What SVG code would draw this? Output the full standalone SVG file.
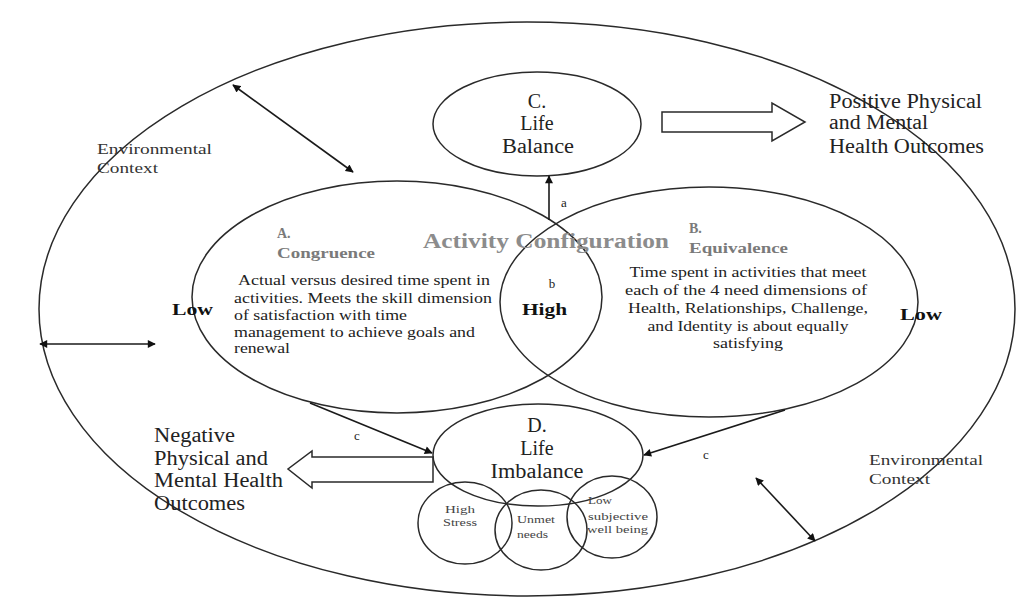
<svg xmlns="http://www.w3.org/2000/svg" width="1026" height="605" viewBox="0 0 1026 605">
<style>
.sh{fill:none;stroke:#2a2a2a;stroke-width:1.5}
.ln{stroke:#1a1a1a;stroke-width:1.6;fill:none}
.t{font-family:"Liberation Serif","Times New Roman",serif;fill:#222}
.big{font-size:20px}
.env{font-size:15.5px;fill:#333}
.body{font-size:14.5px}
.gb{font-weight:bold;fill:#7a7a7a}
.bd{font-weight:bold;fill:#111}
.sm{font-size:11px;fill:#444}
.lbl{font-size:13px}
</style>
<defs>
<marker id="ah" viewBox="0 0 10 10" refX="9" refY="5" markerWidth="9" markerHeight="8" markerUnits="userSpaceOnUse" orient="auto-start-reverse">
<path d="M0,0 L10,5 L0,10 z" fill="#111"/>
</marker>
</defs>
<rect width="1026" height="605" fill="#fff"/>

<g id="outer-context">
<ellipse class="sh" cx="527" cy="309" rx="488" ry="287"/>
</g>

<g id="env-context-left">
<text class="t env" x="97" y="154" textLength="115" lengthAdjust="spacingAndGlyphs">Environmental</text>
<text class="t env" x="97" y="173" textLength="61" lengthAdjust="spacingAndGlyphs">Context</text>
</g>

<g id="env-context-right">
<text class="t env" x="869" y="465" textLength="114" lengthAdjust="spacingAndGlyphs">Environmental</text>
<text class="t env" x="869" y="484" textLength="61" lengthAdjust="spacingAndGlyphs">Context</text>
</g>

<g id="node-c-life-balance">
<ellipse class="sh" cx="537" cy="124" rx="104" ry="52"/>
<text class="t big" x="537" y="108" text-anchor="middle">C.</text>
<text class="t big" x="537" y="130" text-anchor="middle">Life</text>
<text class="t big" x="538" y="153" text-anchor="middle" textLength="72" lengthAdjust="spacingAndGlyphs">Balance</text>
</g>

<g id="node-positive">
<polygon class="sh" points="662,112 772,112 772,103 805,122 772,141 772,132 662,132"/>
<text class="t big" x="829" y="108" textLength="153" lengthAdjust="spacingAndGlyphs">Positive Physical</text>
<text class="t big" x="829" y="129" textLength="99" lengthAdjust="spacingAndGlyphs">and Mental</text>
<text class="t big" x="829" y="153" textLength="155" lengthAdjust="spacingAndGlyphs">Health Outcomes</text>
</g>

<g id="node-a-congruence">
<ellipse class="sh" cx="397" cy="297" rx="205" ry="116"/>
<text class="t gb" x="277" y="238" font-size="14">A.</text>
<text class="t gb" x="277" y="258" font-size="15" textLength="98" lengthAdjust="spacingAndGlyphs">Congruence</text>
<text class="t body" x="238" y="285" textLength="252" lengthAdjust="spacingAndGlyphs">Actual versus desired time spent in</text>
<text class="t body" x="234" y="303" textLength="258" lengthAdjust="spacingAndGlyphs">activities. Meets the skill dimension</text>
<text class="t body" x="234" y="320" textLength="173" lengthAdjust="spacingAndGlyphs">of satisfaction with time</text>
<text class="t body" x="234" y="337" textLength="241" lengthAdjust="spacingAndGlyphs">management to achieve goals and</text>
<text class="t body" x="234" y="353" textLength="56" lengthAdjust="spacingAndGlyphs">renewal</text>
</g>

<g id="node-b-equivalence">
<ellipse class="sh" cx="709" cy="302" rx="209" ry="115"/>
<text class="t gb" x="689" y="233" font-size="14">B.</text>
<text class="t gb" x="689" y="253" font-size="15" textLength="99" lengthAdjust="spacingAndGlyphs">Equivalence</text>
<text class="t body" x="748" y="277" text-anchor="middle" textLength="237" lengthAdjust="spacingAndGlyphs">Time spent in activities that meet</text>
<text class="t body" x="746" y="295" text-anchor="middle" textLength="242" lengthAdjust="spacingAndGlyphs">each of the 4 need dimensions of</text>
<text class="t body" x="748" y="313" text-anchor="middle" textLength="240" lengthAdjust="spacingAndGlyphs">Health, Relationships, Challenge,</text>
<text class="t body" x="748" y="331" text-anchor="middle" textLength="201" lengthAdjust="spacingAndGlyphs">and Identity is about equally</text>
<text class="t body" x="748" y="348" text-anchor="middle" textLength="70" lengthAdjust="spacingAndGlyphs">satisfying</text>
</g>

<g id="activity-configuration">
<text class="t gb" x="423" y="248" font-size="20" fill="#8c8c8c" textLength="246" lengthAdjust="spacingAndGlyphs" style="fill:#8c8c8c">Activity Configuration</text>
<text class="t lbl" x="552" y="288" text-anchor="middle">b</text>
<text class="t bd" x="522" y="315" font-size="17" textLength="45" lengthAdjust="spacingAndGlyphs">High</text>
<text class="t bd" x="172" y="315" font-size="17" textLength="41" lengthAdjust="spacingAndGlyphs">Low</text>
<text class="t bd" x="900" y="320" font-size="17" textLength="42" lengthAdjust="spacingAndGlyphs">Low</text>
</g>

<g id="node-d-life-imbalance">
<ellipse class="sh" cx="538" cy="455" rx="105" ry="51"/>
<text class="t big" x="537" y="432" text-anchor="middle">D.</text>
<text class="t big" x="537" y="455" text-anchor="middle">Life</text>
<text class="t big" x="537" y="478" text-anchor="middle" textLength="93" lengthAdjust="spacingAndGlyphs">Imbalance</text>
</g>

<g id="node-high-stress">
<ellipse class="sh" cx="465" cy="523" rx="47" ry="41"/>
<text class="t sm" x="460" y="513" text-anchor="middle" textLength="30" lengthAdjust="spacingAndGlyphs">High</text>
<text class="t sm" x="460" y="526" text-anchor="middle" textLength="34" lengthAdjust="spacingAndGlyphs">Stress</text>
</g>

<g id="node-unmet-needs">
<ellipse class="sh" cx="541" cy="530" rx="46" ry="40"/>
<text class="t sm" x="517" y="523" textLength="38" lengthAdjust="spacingAndGlyphs">Unmet</text>
<text class="t sm" x="517" y="538" textLength="31" lengthAdjust="spacingAndGlyphs">needs</text>
</g>

<g id="node-low-wellbeing">
<ellipse class="sh" cx="612" cy="517" rx="45" ry="41"/>
<text class="t sm" x="588" y="504" textLength="24" lengthAdjust="spacingAndGlyphs">Low</text>
<text class="t sm" x="588" y="520" textLength="60" lengthAdjust="spacingAndGlyphs">subjective</text>
<text class="t sm" x="587" y="533" textLength="61" lengthAdjust="spacingAndGlyphs">well being</text>
</g>

<g id="node-negative">
<polygon class="sh" points="433,457 312,457 312,451 288,469 312,488 312,482 433,482"/>
<text class="t big" x="154" y="442" textLength="81" lengthAdjust="spacingAndGlyphs">Negative</text>
<text class="t big" x="154" y="465" textLength="114" lengthAdjust="spacingAndGlyphs">Physical and</text>
<text class="t big" x="154" y="487" textLength="129" lengthAdjust="spacingAndGlyphs">Mental Health</text>
<text class="t big" x="154" y="510" textLength="91" lengthAdjust="spacingAndGlyphs">Outcomes</text>
</g>

<g id="connectors">
<line class="ln" x1="549" y1="220" x2="549" y2="176" marker-end="url(#ah)"/>
<line class="ln" x1="310" y1="403" x2="432" y2="453" marker-end="url(#ah)"/>
<line class="ln" x1="785" y1="410" x2="644" y2="455" marker-end="url(#ah)"/>
<line class="ln" x1="233" y1="85" x2="353" y2="172" marker-start="url(#ah)" marker-end="url(#ah)"/>
<line class="ln" x1="40" y1="344" x2="155" y2="344" marker-start="url(#ah)" marker-end="url(#ah)"/>
<line class="ln" x1="756" y1="478" x2="815" y2="541" marker-start="url(#ah)" marker-end="url(#ah)"/>
<text class="t lbl" x="561" y="207">a</text>
<text class="t lbl" x="354" y="440">c</text>
<text class="t lbl" x="703" y="459">c</text>
</g>
</svg>
